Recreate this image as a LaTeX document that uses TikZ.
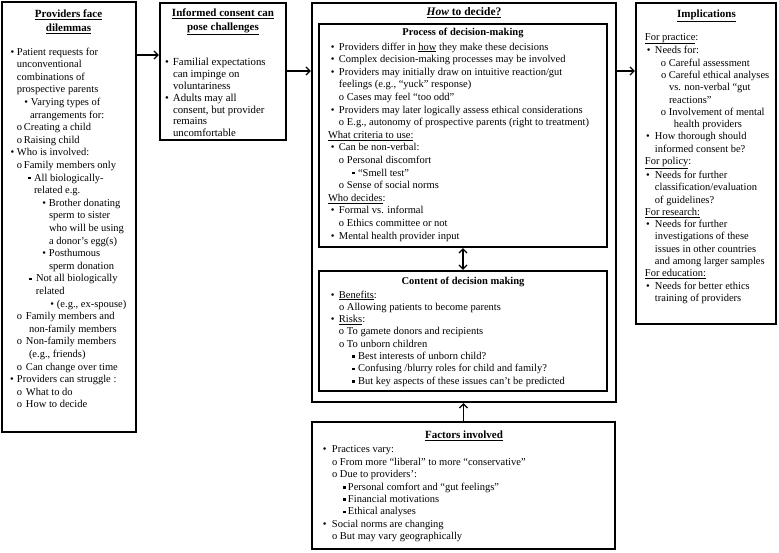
\documentclass[tikz,border=0pt]{standalone}
\usepackage{fontspec}
\setmainfont{Liberation Serif}
\usetikzlibrary{arrows.meta}
\newcommand\sqm{\rule[1.6pt]{2.7pt}{2.7pt}}
\newcommand\ML[4]{\strut\rlap{\hspace*{#1pt}#2}\hspace*{#3pt}#4}
\newcommand\CL[2]{\strut\hspace*{#1pt}#2}
\tikzset{
  bx/.style={draw, line width=2.3pt, rectangle, inner sep=0pt, outer sep=0pt, anchor=north west},
  txt/.style={inner sep=0pt, outer sep=0pt, anchor=north west, align=left},
  ttl/.style={inner sep=0pt, outer sep=0pt, align=center, font=\fontsize{11}{14}\selectfont\bfseries},
  arr/.style={line width=1.3pt, -{Straight Barb[length=4pt,width=8pt]}, shorten >=1.1pt, shorten <=1.1pt},
  darr/.style={line width=1.3pt, {Straight Barb[length=4pt,width=8pt]}-{Straight Barb[length=4pt,width=8pt]}, shorten >=1.1pt, shorten <=1.1pt}
}
\begin{document}
\begin{tikzpicture}[x=1pt,y=-1pt]
\fill[white] (0,0) rectangle (779,552);
\useasboundingbox (0,0) rectangle (779,552);

% boxes
\node[bx, minimum width=134pt, minimum height=430pt] (dil) at (2,2) {};
\node[bx, minimum width=126pt, minimum height=137pt] (ic) at (160,3) {};
\node[bx, minimum width=304pt, minimum height=399pt] (how) at (312,3) {};
\node[bx, line width=2pt, minimum width=288pt, minimum height=223pt] (proc) at (319,24) {};
\node[bx, line width=2pt, minimum width=288pt, minimum height=120pt] (cont) at (319,271) {};
\node[bx, minimum width=303pt, minimum height=127pt] (fac) at (312,422) {};
\node[bx, minimum width=140pt, minimum height=321pt] (imp) at (636,3) {};

% titles
\node[ttl] (dilH) at (68.5,22) {\underline{Providers face}\\\underline{dilemmas}};
\node[ttl] (icH) at (223,22) {\underline{Informed consent can}\\\underline{pose challenges}};
\node[ttl, font=\fontsize{11.5}{14}\selectfont\bfseries] (howH) at (464,13) {\underline{\textit{How} to decide?}};
\node[ttl, font=\fontsize{10.5}{13}\selectfont\bfseries] (procH) at (463,33) {Process of decision-making};
\node[ttl, font=\fontsize{10.5}{13}\selectfont\bfseries] (contH) at (463,282) {Content of decision making};
\node[ttl] (facH) at (464,436) {\underline{Factors involved}};
\node[ttl] (impH) at (706.5,16) {\underline{Implications}};

% box 1 text
\node[txt, font=\fontsize{10.5}{12.6}\selectfont] (dilT) at (0,46.2) {%
\ML{10.5}{•}{17}{Patient requests for}\\
\CL{17}{unconventional}\\
\CL{17}{combinations of}\\
\CL{17}{prospective parents}\\
\ML{24.5}{•}{31}{Varying types of}\\
\CL{30}{arrangements for:}\\
\ML{17}{o}{24}{Creating a child}\\
\ML{17}{o}{24}{Raising child}\\
\ML{10.5}{•}{17}{Who is involved:}\\
\ML{17}{o}{24}{Family members only}\\
\ML{28}{\sqm}{34}{All biologically-}\\
\CL{34}{related e.g.}\\
\ML{42.5}{•}{49}{Brother donating}\\
\CL{49}{sperm to sister}\\
\CL{49}{who will be using}\\
\CL{49}{a donor's egg(s)}\\
\ML{42.5}{•}{49}{Posthumous}\\
\CL{49}{sperm donation}\\
\ML{29}{\sqm}{36}{Not all biologically}\\
\CL{36}{related}\\
\ML{50.5}{•}{57}{(e.g., ex-spouse)}\\
\ML{17}{o}{26}{Family members and}\\
\CL{29}{non-family members}\\
\ML{17}{o}{26}{Non-family members}\\
\CL{29}{(e.g., friends)}\\
\ML{17}{o}{26}{Can change over time}\\
\ML{10}{•}{17}{Providers can struggle :}\\
\ML{17}{o}{26}{What to do}\\
\ML{17}{o}{26}{How to decide}};

% box 2 text
\node[txt, font=\fontsize{10.8}{11.8}\selectfont] (icT) at (0,57.7) {%
\ML{165}{•}{173}{Familial expectations}\\
\CL{173}{can impinge on}\\
\CL{173}{voluntariness}\\
\ML{165}{•}{173}{Adults may all}\\
\CL{173}{consent, but provider}\\
\CL{173}{remains}\\
\CL{173}{uncomfortable}};

% process text
\node[txt, font=\fontsize{10.5}{12.6}\selectfont] (procT) at (0,41.2) {%
\ML{331}{•}{339}{Providers differ in \underline{how} they make these decisions}\\
\ML{331}{•}{339}{Complex decision-making processes may be involved}\\
\ML{331}{•}{339}{Providers may initially draw on intuitive reaction/gut}\\
\CL{339}{feelings (e.g., “yuck” response)}\\
\ML{339}{o}{347}{Cases may feel “too odd”}\\
\ML{331}{•}{339}{Providers may later logically assess ethical considerations}\\
\ML{339}{o}{347}{E.g., autonomy of prospective parents (right to treatment)}\\
\CL{328}{\underline{What criteria to use:}}\\
\ML{331}{•}{339}{Can be non-verbal:}\\
\ML{339}{o}{347}{Personal discomfort}\\
\ML{352}{\sqm}{358}{“Smell test”}\\
\ML{339}{o}{347}{Sense of social norms}\\
\CL{328}{\underline{Who decides}:}\\
\ML{331}{•}{339}{Formal vs. informal}\\
\ML{339}{o}{347}{Ethics committee or not}\\
\ML{331}{•}{339}{Mental health provider input}};

% content text
\node[txt, font=\fontsize{10.5}{12.3}\selectfont] (contT) at (0,289.4) {%
\ML{331}{•}{339}{\underline{Benefits}:}\\
\ML{339}{o}{347}{Allowing patients to become parents}\\
\ML{331}{•}{339}{\underline{Risks}:}\\
\ML{339}{o}{347}{To gamete donors and recipients}\\
\ML{339}{o}{347}{To unborn children}\\
\ML{352}{\sqm}{358}{Best interests of unborn child?}\\
\ML{352}{\sqm}{358}{Confusing /blurry roles for child and family?}\\
\ML{352}{\sqm}{358}{But key aspects of these issues can’t be predicted}};

% factors text
\node[txt, font=\fontsize{10.5}{12.4}\selectfont] (facT) at (0,444.3) {%
\ML{323}{•}{332}{Practices vary:}\\
\ML{332}{o}{340}{From more “liberal” to more “conservative”}\\
\ML{332}{o}{340}{Due to providers’:}\\
\ML{343}{\sqm}{348}{Personal comfort and “gut feelings”}\\
\ML{343}{\sqm}{348}{Financial motivations}\\
\ML{343}{\sqm}{348}{Ethical analyses}\\
\ML{323}{•}{332}{Social norms are changing}\\
\ML{332}{o}{340}{But may vary geographically}};

% implications text
\node[txt, font=\fontsize{10.5}{12.3}\selectfont] (impT) at (0,31.4) {%
\CL{645}{\underline{For practice}:}\\
\ML{647}{•}{655}{Needs for:}\\
\ML{661}{o}{669}{Careful assessment}\\
\ML{661}{o}{669}{Careful ethical analyses}\\
\CL{669}{vs. non-verbal “gut}\\
\CL{669}{reactions"}\\
\ML{661}{o}{669}{Involvement of mental}\\
\CL{674}{health providers}\\
\ML{646}{•}{655}{How thorough should}\\
\CL{655}{informed consent be?}\\
\CL{645}{\underline{For policy}:}\\
\ML{646}{•}{655}{Needs for further}\\
\CL{655}{classification/evaluation}\\
\CL{655}{of guidelines?}\\
\CL{645}{\underline{For research:}}\\
\ML{646}{•}{655}{Needs for further}\\
\CL{655}{investigations of these}\\
\CL{655}{issues in other countries}\\
\CL{655}{and among larger samples}\\
\CL{645}{\underline{For education:}}\\
\ML{646}{•}{655}{Needs for better ethics}\\
\CL{655}{training of providers}};

% connectors
\draw[arr] (dil.east |- 0,55) -- (ic.west |- 0,55);
\draw[arr] (ic.east |- 0,71) -- (how.west |- 0,71);
\draw[arr] (how.east |- 0,71) -- (imp.west |- 0,71);
\draw[darr] (proc.south) -- (cont.north);
\draw[arr] (fac.north) -- (fac.north |- how.south);
\end{tikzpicture}
\end{document}
